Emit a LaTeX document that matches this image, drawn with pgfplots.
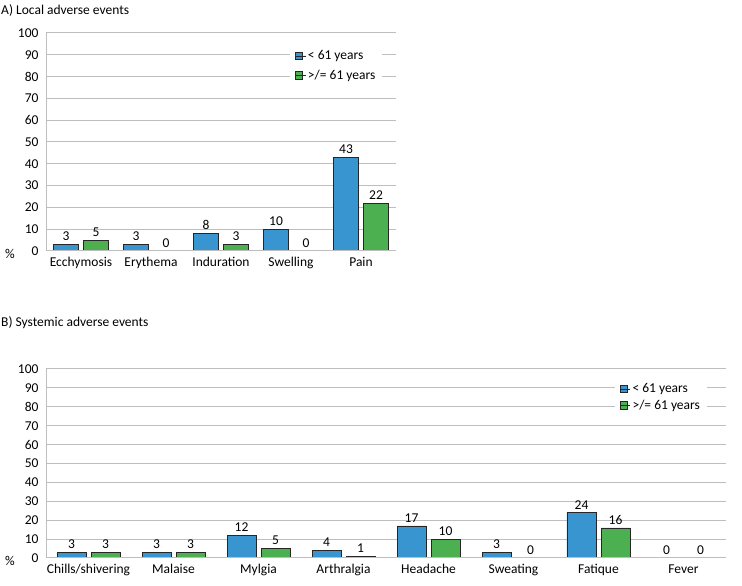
\documentclass[border=0pt]{standalone}
\usepackage{pgfplots}
\pgfplotsset{compat=1.18}
\usepackage{fontspec}
\setmainfont{Carlito}
\definecolor{barblue}{RGB}{57,149,207}
\definecolor{bargreen}{RGB}{76,176,80}
\definecolor{gridgray}{RGB}{190,190,190}
\newcommand{\chartfont}{\fontsize{13.5}{15}\selectfont}
\pgfplotsset{
  common/.style={
    scale only axis,
    anchor=south west,
    ymin=0, ymax=100, ytick={0,10,...,100},
    ymajorgrids,
    grid style={gridgray, line width=1pt},
    axis x line*=bottom, axis y line*=left,
    axis line style={gridgray, line width=1pt, -},
    major tick length=0pt,
    tick style={draw=none},
    /pgf/number format/assume math mode=true,
    ticklabel style={font=\chartfont},
    yticklabel style={xshift=-4pt},
    xticklabel style={yshift=-3pt},
    nodes near coords,
    every node near coord/.append style={font=\chartfont, text=black, yshift=0pt},
    legend style={draw=none, fill=white, font=\chartfont, anchor=center,
      inner xsep=5pt, inner ysep=1pt, cells={anchor=west}},
    legend cell align=left,
  },
  blueb/.style={fill=barblue, draw=black!85, line width=0.5pt,
    legend image code/.code={\draw[fill=barblue, draw=black!85, line width=0.5pt] (0pt,-3.5pt) rectangle (7.5pt,4pt); \path (0pt,0pt) -- (10.5pt,0pt);}},
  greenb/.style={fill=bargreen, draw=black!85, line width=0.5pt,
    legend image code/.code={\draw[fill=bargreen, draw=black!85, line width=0.5pt] (0pt,-3.5pt) rectangle (7.5pt,4pt); \path (0pt,0pt) -- (10.5pt,0pt);}},
}
\begin{document}
\begin{tikzpicture}[x=1pt,y=1pt]
\path[use as bounding box] (0,0) rectangle (742,586);
\node[anchor=west, inner sep=0, font=\chartfont] at (1,575) {A) Local adverse events};
\node[anchor=west, inner sep=0, font=\chartfont] at (1,263) {B) Systemic adverse events};
\node[font=\chartfont] at (10,332) {\%};
\node[font=\chartfont] at (10,25) {\%};
\begin{axis}[common, at={(46pt,335pt)}, width=350pt, height=218pt,
  xmin=-0.5, xmax=4.5, xtick={0,1,2,3,4},
  xticklabels={Ecchymosis,Erythema,Induration,Swelling,Pain},
  ybar=5pt, bar width=25pt,
  legend style={at={(0.829,0.85)}, row sep=5pt}]
\addplot[blueb] coordinates {(0,3) (1,3) (2,8) (3,10) (4,43)};
\addlegendentry{< 61 years}
\addplot[greenb] coordinates {(0,5) (1,0) (2,3) (3,0) (4,22)};
\addlegendentry{>/= 61 years}
\draw[gridgray, line width=1pt] (rel axis cs:0,0) -- (rel axis cs:1,0);
\end{axis}
\begin{axis}[common, at={(46pt,28pt)}, width=680pt, height=189pt,
  xmin=-0.5, xmax=7.5, xtick={0,1,2,3,4,5,6,7},
  xticklabels={Chills/shivering,Malaise,Mylgia,Arthralgia,Headache,Sweating,Fatique,Fever},
  ybar=5pt, bar width=29pt,
  legend style={at={(0.904,0.85)}, row sep=2pt}]
\addplot[blueb] coordinates {(0,3) (1,3) (2,12) (3,4) (4,17) (5,3) (6,24) (7,0)};
\addlegendentry{< 61 years}
\addplot[greenb] coordinates {(0,3) (1,3) (2,5) (3,1) (4,10) (5,0) (6,16) (7,0)};
\addlegendentry{>/= 61 years}
\draw[gridgray, line width=1pt] (rel axis cs:0,0) -- (rel axis cs:1,0);
\end{axis}
\end{tikzpicture}
\end{document}
